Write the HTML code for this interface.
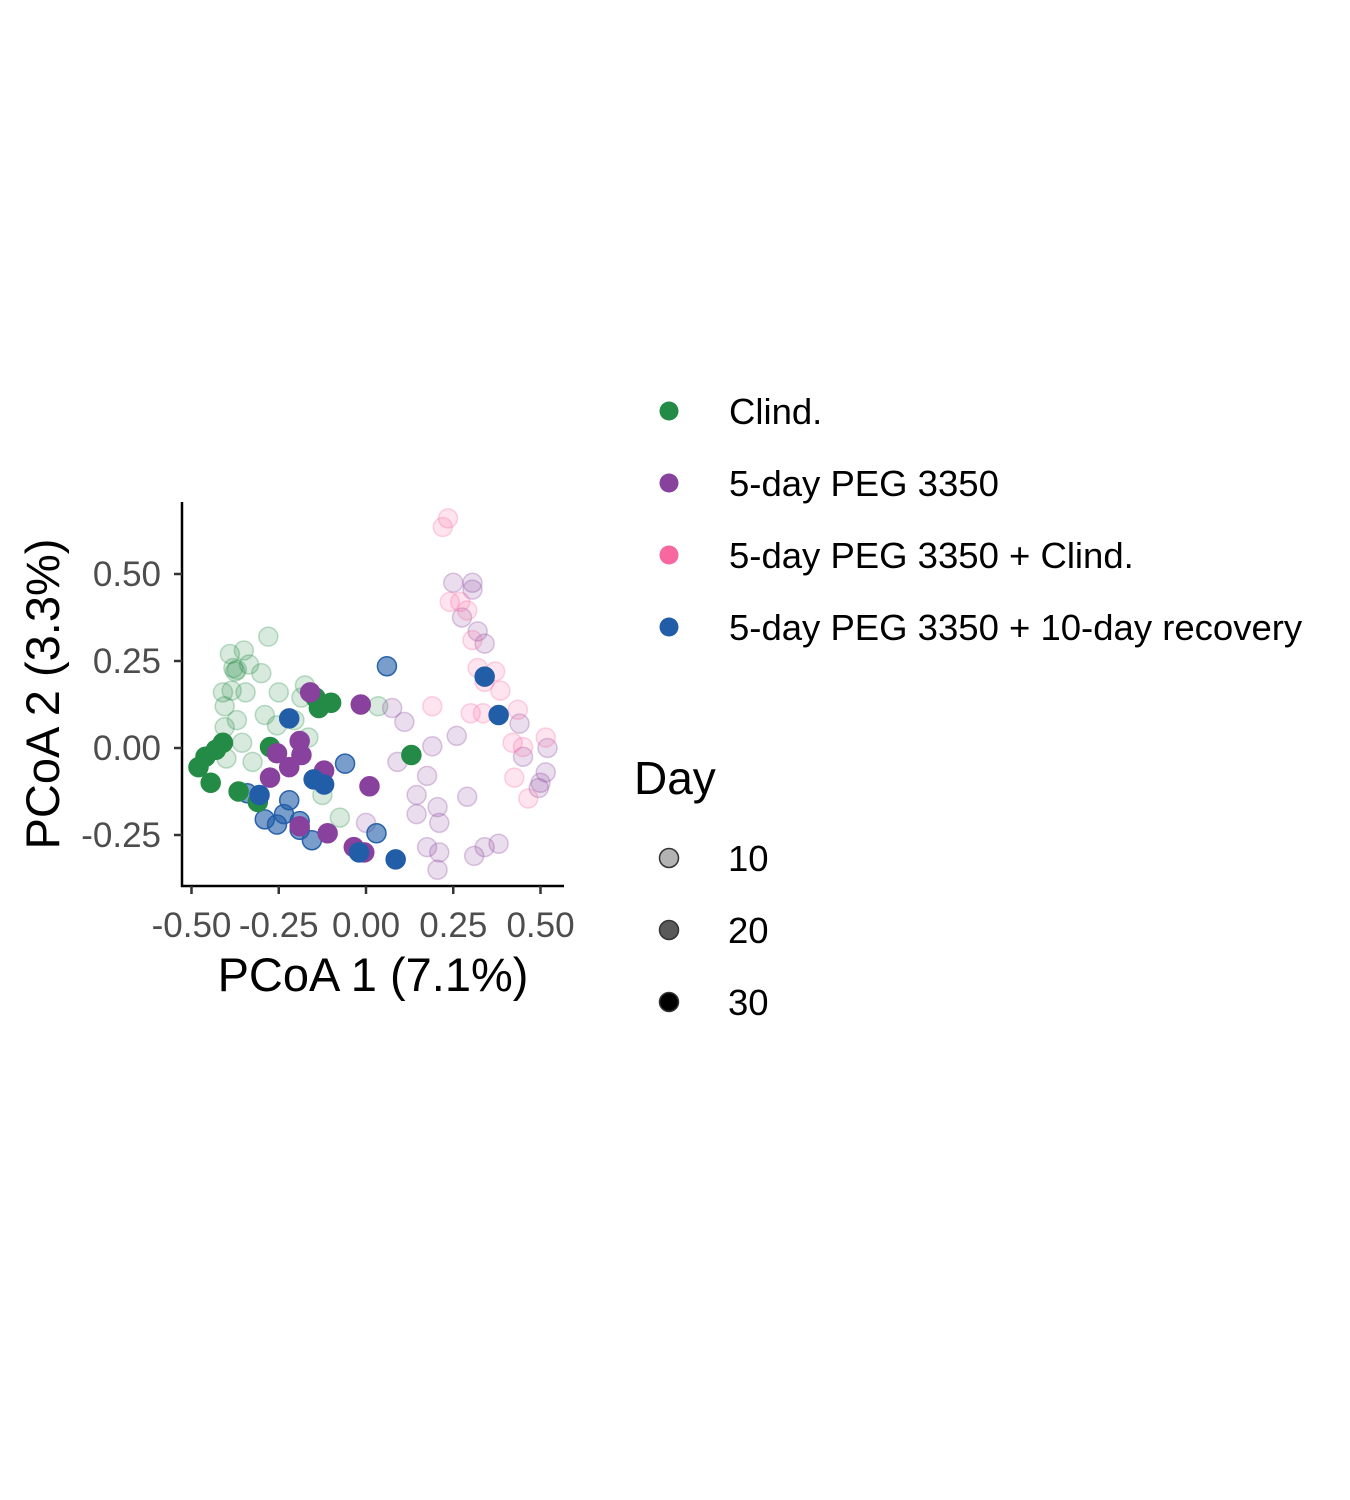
<!DOCTYPE html>
<html><head><meta charset="utf-8"><style>
body{margin:0;background:#fff;}
svg{display:block;font-family:"Liberation Sans",Arial,sans-serif;}
</style></head><body>
<svg width="1350" height="1500">
<g id="pts"></g>
<g id="axes"></g>
<g id="legend"></g>
</svg>
<script>
const groupNames=["Clind.","5-day PEG 3350","5-day PEG 3350 + Clind.","5-day PEG 3350 + 10-day recovery"];
const groupColors=["#238b45","#88419d","#f768a1","#225ea8"];
const xTicks=[-0.5,-0.25,0,0.25,0.5];
const xTickLabels=["-0.50","-0.25","0.00","0.25","0.50"];
const yTicks=[-0.25,0,0.25,0.5];
const yTickLabels=["-0.25","0.00","0.25","0.50"];
const dayLevels=[10,20,30];
const greenPts=[[-0.28,0.32,10],[-0.39,0.27,10],[-0.35,0.28,10],[-0.375,0.22,10],[-0.335,0.24,10],[-0.30,0.215,10],[-0.41,0.16,10],[-0.385,0.165,10],[-0.345,0.16,10],[-0.405,0.12,10],[-0.37,0.08,10],[-0.405,0.06,10],[-0.355,0.015,10],[-0.325,-0.04,10],[-0.40,-0.03,10],[-0.29,0.095,10],[-0.25,0.16,10],[-0.175,0.18,10],[-0.185,0.145,10],[-0.205,0.08,10],[-0.255,0.065,10],[-0.165,0.03,10],[-0.125,-0.135,10],[-0.075,-0.20,10],[0.035,0.12,10],[-0.38,0.23,10],[-0.37,0.225,10],
[-0.445,-0.10,30],[-0.48,-0.055,30],[-0.46,-0.025,30],[-0.43,-0.005,30],[-0.41,0.015,30],[-0.275,0.003,30],[-0.365,-0.125,30],[-0.31,-0.155,30],[-0.145,0.145,30],[-0.10,0.13,30],[-0.135,0.115,30],[0.13,-0.02,30]];
const purplePts=[[0.25,0.475,10],[0.305,0.475,10],[0.305,0.455,10],[0.275,0.375,10],[0.32,0.335,10],[0.34,0.30,10],[0.075,0.115,10],[0.11,0.075,10],[0.26,0.035,10],[0.19,0.005,10],[0.09,-0.04,10],[0.175,-0.08,10],[0.145,-0.135,10],[0.29,-0.14,10],[0.205,-0.17,10],[0.145,-0.19,10],[0.21,-0.215,10],[0.175,-0.285,10],[0.21,-0.30,10],[0.205,-0.35,10],[0.31,-0.31,10],[0.34,-0.285,10],[0.38,-0.275,10],[0.44,0.07,10],[0.45,-0.025,10],[0.52,0.0,10],[0.515,-0.07,10],[0.50,-0.10,10],[0.495,-0.115,10],[0.0,-0.215,10],
[-0.16,0.16,30],[-0.015,0.125,30],[-0.19,0.02,30],[-0.255,-0.015,30],[-0.185,-0.02,30],[-0.22,-0.055,30],[-0.275,-0.085,30],[-0.12,-0.065,30],[0.01,-0.11,30],[-0.11,-0.245,30],[-0.035,-0.285,30],[-0.005,-0.30,30],[-0.19,-0.225,30]];
const pinkPts=[[0.235,0.66,10],[0.22,0.635,10],[0.27,0.42,10],[0.29,0.395,10],[0.305,0.31,10],[0.32,0.23,10],[0.37,0.22,10],[0.34,0.19,10],[0.385,0.165,10],[0.19,0.12,10],[0.30,0.10,10],[0.335,0.10,10],[0.435,0.11,10],[0.42,0.015,10],[0.45,0.003,10],[0.515,0.03,10],[0.425,-0.085,10],[0.465,-0.145,10],[0.24,0.42,10]];
const bluePts=[[-0.06,-0.045,20],[-0.22,-0.15,20],[-0.29,-0.205,20],[-0.255,-0.22,20],[-0.235,-0.19,20],[-0.19,-0.235,20],[-0.155,-0.265,20],[-0.19,-0.21,20],[-0.34,-0.13,20],[0.06,0.235,20],[0.03,-0.245,20],
[-0.22,0.085,30],[-0.305,-0.135,30],[-0.15,-0.09,30],[-0.12,-0.105,30],[-0.02,-0.30,30],[0.34,0.205,30],[0.38,0.095,30],[0.085,-0.32,30]];
const allGroups=[greenPts,purplePts,pinkPts,bluePts];
const NS="http://www.w3.org/2000/svg";
const sx=v=>366+v*349, sy=v=>748-v*348;
const alphaOf=d=>d<=10?0.18:(d<=20?0.6:1);
function mk(tag,attrs,parent){const e=document.createElementNS(NS,tag);for(const k in attrs)e.setAttribute(k,attrs[k]);parent.appendChild(e);return e;}
const pg=document.getElementById('pts');
[10,20,30].forEach(day=>{
 allGroups.forEach((pts,gi)=>{
  pts.filter(p=>p[2]===day).forEach(p=>{
   const c=mk('circle',{cx:sx(p[0]),cy:sy(p[1]),r:9.5,fill:groupColors[gi],'fill-opacity':alphaOf(day),stroke:groupColors[gi],'stroke-opacity':Math.min(1,alphaOf(day)*1.6),'stroke-width':1.5},pg);
   
   
  });
 });
});
const ax=document.getElementById('axes');
let l=mk('line',{x1:182,y1:502,x2:182,y2:887,stroke:'#000','stroke-width':2.5},ax);

l=mk('line',{x1:181,y1:886,x2:564,y2:886,stroke:'#000','stroke-width':2.5},ax);

xTicks.forEach((v,i)=>{
 const t=mk('line',{x1:sx(v),y1:886,x2:sx(v),y2:894,stroke:'#333','stroke-width':2.5},ax);
 
 const tx=mk('text',{x:sx(v),y:937,'text-anchor':'middle','font-size':35,fill:'#4d4d4d'},ax);
 tx.textContent=xTickLabels[i];
 
});
yTicks.forEach((v,i)=>{
 const t=mk('line',{x1:174,y1:sy(v),x2:182,y2:sy(v),stroke:'#333','stroke-width':2.5},ax);
 
 const tx=mk('text',{x:161,y:sy(v)+12,'text-anchor':'end','font-size':35,fill:'#4d4d4d'},ax);
 tx.textContent=yTickLabels[i];
 
});
let tt=mk('text',{x:373,y:991,'text-anchor':'middle','font-size':47,fill:'#000'},ax);
tt.textContent='PCoA 1 (7.1%)';
tt=mk('text',{x:0,y:0,'text-anchor':'middle','font-size':47,fill:'#000',transform:'translate(59,694) rotate(-90)'},ax);
tt.textContent='PCoA 2 (3.3%)';
const lg=document.getElementById('legend');
groupNames.forEach((n,i)=>{
 const y=411+i*72;
 const c=mk('circle',{cx:669,cy:y,r:9.5,fill:groupColors[i]},lg);
 
 const t=mk('text',{x:729,y:y+13,'font-size':36.5,fill:'#000'},lg);
 t.textContent=n;
});
tt=mk('text',{x:634,y:794,'font-size':46,fill:'#000'},lg);
tt.textContent='Day';
const dayCols=['#b3b3b3','#595959','#000'];
dayLevels.forEach((d,i)=>{
 const y=858+i*72;
 const c=mk('circle',{cx:669,cy:y,r:9.5,fill:dayCols[i],stroke:'#333','stroke-width':1.5},lg);
 
 const t=mk('text',{x:728,y:y+13,'font-size':36.5,fill:'#000'},lg);
 t.textContent=String(d);
});
</script>
</body></html>
